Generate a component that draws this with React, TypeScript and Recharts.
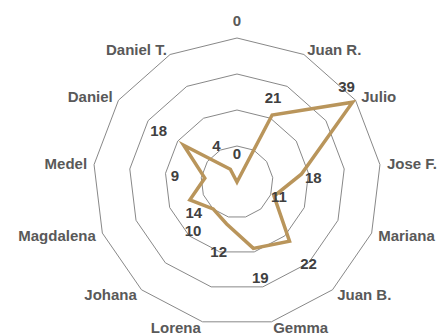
import React from "react"
import {
  RadarChart,
  Radar,
  PolarGrid,
  PolarAngleAxis,
  PolarRadiusAxis,
  LabelList,
} from "recharts"

const NAMES = [
  "0", "Juan R.", "Julio", "Jose F.", "Mariana", "Juan B.", "Gemma",
  "Lorena", "Johana", "Magdalena", "Medel", "Daniel", "Daniel T.",
]
const VALUES = [0, 21, 39, 18, 11, 22, 19, 12, 10, 14, 9, 18, 4]
const RADIUS_DOMAIN = [0, 40]

// label nudges (px) from each point, as placed in the original
const LABEL_NUDGE = [
  [0, -29], [1, -18], [-6, -16], [12, 3], [5, 0], [19, 22], [7, 29],
  [-8, 28], [-20, 22], [4, 13], [-30, -3], [-25, -15], [-14, -24],
]

const CX = 237
const CY = 182
const R = 144
const FONT = "'Liberation Sans', Arial, sans-serif"

const data = NAMES.map((name, i) => ({ name, value: VALUES[i] }))

function CategoryTick(props: any) {
  const { payload, index } = props
  const i = index ?? payload?.index ?? 0
  const th = (i * 2 * Math.PI) / NAMES.length
  const s = Math.sin(th)
  const c = Math.cos(th)
  const vx = CX + R * s
  const vy = CY - R * c
  let anchor: "start" | "end" | "middle" = "middle"
  if (s > 0.1) anchor = "start"
  else if (s < -0.1) anchor = "end"
  let x = vx + 7 * s
  let y = vy - 6 * c
  if (anchor === "middle") y = vy - 18
  return (
    <text
      x={x}
      y={y}
      textAnchor={anchor}
      dominantBaseline="central"
      fill="#595959"
      fontSize={15}
      fontWeight="bold"
      fontFamily={FONT}
    >
      {payload.value}
    </text>
  )
}

function ValueLabel(props: any) {
  const { x, y, value, index } = props
  const [dx, dy] = LABEL_NUDGE[index] ?? [0, 0]
  return (
    <text
      x={x + dx}
      y={y + dy}
      textAnchor="middle"
      dominantBaseline="central"
      fill="#404040"
      fontSize={15}
      fontWeight="bold"
      fontFamily={FONT}
    >
      {value}
    </text>
  )
}

export default function App() {
  return (
    <div style={{ position: "absolute", left: 0, top: 0, background: "#fff" }}>
      <RadarChart
        width={439}
        height={336}
        data={data}
        cx={CX}
        cy={CY}
        outerRadius={R}
        margin={{ top: 0, right: 0, bottom: 0, left: 0 }}
      >
        <PolarGrid gridType="polygon" radialLines={false} stroke="#888888" strokeWidth={1} />
        <PolarAngleAxis
          dataKey="name"
          tick={<CategoryTick />}
          tickLine={false}
          axisLine={false}
        />
        <PolarRadiusAxis
          domain={RADIUS_DOMAIN}
          tickCount={5}
          tick={false}
          axisLine={false}
        />
        <Radar
          dataKey="value"
          stroke="#B9955B"
          strokeWidth={3.5}
          fill="none"
          fillOpacity={0}
          dot={false}
          isAnimationActive={false}
        >
          <LabelList dataKey="value" content={<ValueLabel />} />
        </Radar>
      </RadarChart>
    </div>
  )
}
